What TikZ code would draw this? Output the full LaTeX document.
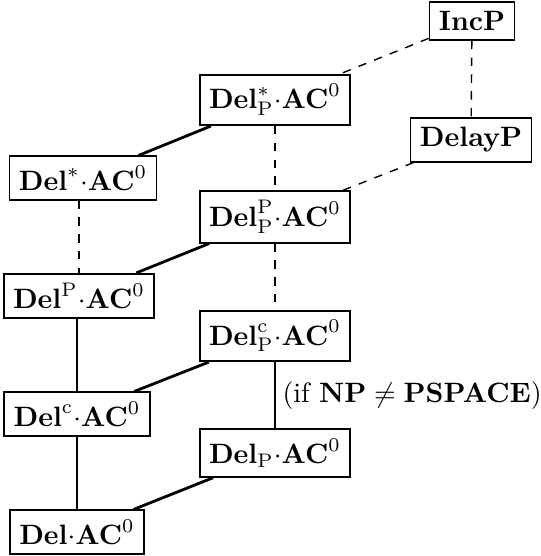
\documentclass[tikz,border=0pt]{standalone}
\begin{document}
\begin{tikzpicture}[x=0.35714pt,y=-0.35714pt,
  cls/.style={draw,line width=0.6pt,inner sep=0.333em},
  strong/.style={line width=1pt},
  weak/.style={dashed,line width=0.5pt}]
\useasboundingbox (0,0) rectangle (540,556);
\node[cls] (incp) at (472,21) {$\mathbf{IncP}$};
\node[cls] (delayp) at (471,140) {$\mathbf{DelayP}$};
\node[cls] (dPs) at (275,100) {$\mathbf{Del}^{*}_{\mathrm{P}}{\cdot}\mathbf{AC}^0$};
\node[cls] (ds) at (83,178) {$\mathbf{Del}^{*}{\cdot}\mathbf{AC}^0$};
\node[cls] (dPP) at (275,217) {$\mathbf{Del}^{\mathrm{P}}_{\mathrm{P}}{\cdot}\mathbf{AC}^0$};
\node[cls] (dP) at (79,296) {$\mathbf{Del}^{\mathrm{P}}{\cdot}\mathbf{AC}^0$};
\node[cls] (dPc) at (275,336) {$\mathbf{Del}^{\mathrm{c}}_{\mathrm{P}}{\cdot}\mathbf{AC}^0$};
\node[cls] (dc) at (77,414) {$\mathbf{Del}^{\mathrm{c}}{\cdot}\mathbf{AC}^0$};
\node[cls] (dPl) at (275,453) {$\mathbf{Del}_{\mathrm{P}}{\cdot}\mathbf{AC}^0$};
\node[cls] (d) at (77,532) {$\mathbf{Del}{\cdot}\mathbf{AC}^0$};
% dashed
\draw[weak] (incp) -- (dPs);
\draw[weak] (incp) -- (delayp);
\draw[weak] (delayp) -- (dPP);
\draw[weak] (dPs) -- (dPP);
\draw[weak] (dPP) -- (dPc);
\draw[weak] (dP |- ds.south) -- (dP.north);
% solid
\draw[strong] (dPs) -- (ds);
\draw[strong] (dPP) -- (dP);
\draw[strong] (dP.south -| dc) -- (dc.north);
\draw[strong] (dPc) -- (dc);
\draw[strong] (dPc) -- node[right,inner sep=2.2pt] {$(\mbox{if }\mathbf{NP}\neq\mathbf{PSPACE})$} (dPl);
\draw[strong] (dc) -- (d);
\draw[strong] (dPl) -- (d);
\end{tikzpicture}
\end{document}
